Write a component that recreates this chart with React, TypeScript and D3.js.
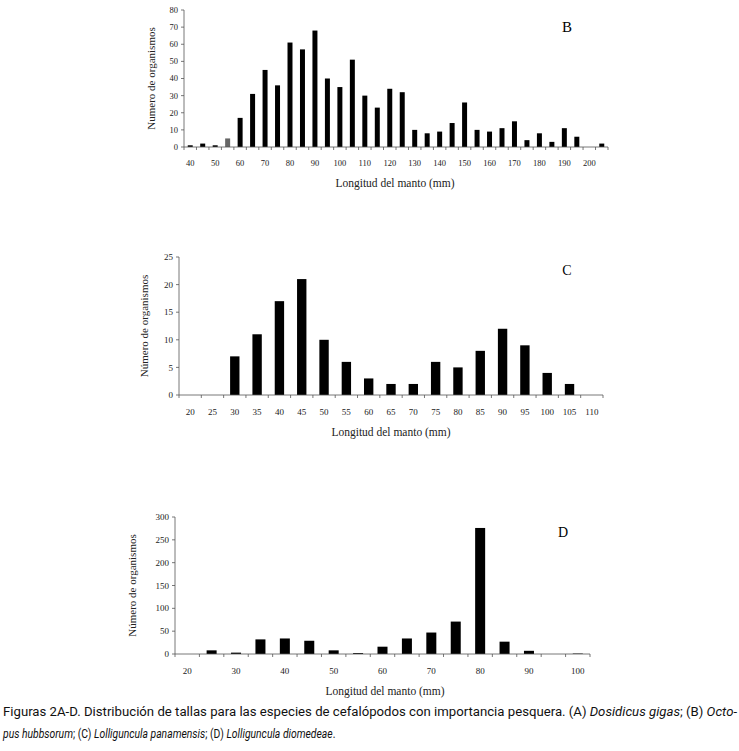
import React from 'react';
import * as d3 from 'd3';

// Panel B - Octopus hubbsorum
const sizesB = [40, 45, 50, 55, 60, 65, 70, 75, 80, 85, 90, 95, 100, 105, 110, 115, 120, 125, 130, 135, 140, 145, 150, 155, 160, 165, 170, 175, 180, 185, 190, 195, 200, 205];
const countsB = [1, 2, 1, 5, 17, 31, 45, 36, 61, 57, 68, 40, 35, 51, 30, 23, 34, 32, 10, 8, 9, 14, 26, 10, 9, 11, 15, 4, 8, 3, 11, 6, 0, 2];
const yTicksB = [0, 10, 20, 30, 40, 50, 60, 70, 80];

// Panel C - Lolliguncula panamensis
const sizesC = [20, 25, 30, 35, 40, 45, 50, 55, 60, 65, 70, 75, 80, 85, 90, 95, 100, 105, 110];
const countsC = [0, 0, 7, 11, 17, 21, 10, 6, 3, 2, 2, 6, 5, 8, 12, 9, 4, 2, 0];
const yTicksC = [0, 5, 10, 15, 20, 25];

// Panel D - Lolliguncula diomedeae
const sizesD = [20, 25, 30, 35, 40, 45, 50, 55, 60, 65, 70, 75, 80, 85, 90, 95, 100];
const countsD = [0, 8, 3, 32, 34, 29, 8, 2, 16, 34, 47, 71, 276, 27, 7, 0, 1];
const yTicksD = [0, 50, 100, 150, 200, 250, 300];

const serif = '"Liberation Serif", "DejaVu Serif", serif';
const capFont = '"Roboto", "Liberation Sans", sans-serif';

interface PanelProps {
  sizes: number[];
  counts: number[];
  yTicks: number[];
  letter: string;
  yTitle: string;
  left: number;
  right: number;
  top: number;
  bottom: number;
  pad: number;
  showLabel: (v: number, i: number) => boolean;
  tickFont: number;
  yTitleX: number;
  xTitleY: number;
  xTitleX: number;
  letterX: number;
  letterY: number;
  letterSize: number;
  grey?: number[];
}

function Panel(p: PanelProps) {
  const x = d3.scaleBand<number>().domain(p.sizes).range([p.left, p.right]).paddingInner(p.pad).paddingOuter(p.pad / 2);
  const xb = d3.scaleBand<number>().domain(p.sizes).range([p.left, p.right]);
  const y = d3.scaleLinear().domain([0, p.yTicks[p.yTicks.length - 1]]).range([p.bottom, p.top]);
  const bounds = p.sizes.map((s) => xb(s)!).concat([p.right]);
  return (
    <g>
      {p.counts.map((c, i) => (
        <rect
          key={i}
          x={x(p.sizes[i])}
          y={y(c)}
          width={x.bandwidth()}
          height={p.bottom - y(c)}
          fill={p.grey && p.grey.includes(p.sizes[i]) ? '#666' : '#000'}
        />
      ))}
      <line x1={p.left} x2={p.left} y1={p.top} y2={p.bottom} stroke="#555" strokeWidth={0.8} />
      <line x1={p.left} x2={p.right} y1={p.bottom} y2={p.bottom} stroke="#555" strokeWidth={0.8} />
      {p.yTicks.map((t) => (
        <g key={t}>
          <line x1={p.left - 3} x2={p.left} y1={y(t)} y2={y(t)} stroke="#555" strokeWidth={0.8} />
          <text x={p.left - 6} y={y(t)} dy="0.35em" textAnchor="end" fontSize={p.tickFont} fontFamily={serif} fill="#222">
            {t}
          </text>
        </g>
      ))}
      {bounds.map((b, i) => (
        <line key={i} x1={b} x2={b} y1={p.bottom} y2={p.bottom + 3} stroke="#555" strokeWidth={0.8} />
      ))}
      {p.sizes.map((s, i) =>
        p.showLabel(s, i) ? (
          <text key={s} x={xb(s)! + xb.bandwidth() / 2} y={p.xTitleY - 21} textAnchor="middle" fontSize={p.tickFont} fontFamily={serif} fill="#222">
            {s}
          </text>
        ) : null
      )}
      <text
        transform={`translate(${p.yTitleX},${(p.top + p.bottom) / 2}) rotate(-90)`}
        textAnchor="middle"
        fontSize={11}
        fontFamily={serif}
        fill="#222"
      >
        {p.yTitle}
      </text>
      <text x={p.xTitleX} y={p.xTitleY} textAnchor="middle" fontSize={11.5} fontFamily={serif} fill="#222">
        Longitud del manto (mm)
      </text>
      <text x={p.letterX} y={p.letterY} textAnchor="middle" fontSize={p.letterSize} fontFamily={serif} fill="#000">
        {p.letter}
      </text>
    </g>
  );
}

export default function App() {
  return (
    <svg width={739} height={751} style={{ position: 'absolute', left: 0, top: 0, background: '#fff' }}>
      <rect width={739} height={751} fill="#fff" />
      <Panel
        sizes={sizesB}
        counts={countsB}
        yTicks={yTicksB}
        letter="B"
        yTitle="Numero de organismos"
        left={184}
        right={608}
        top={10}
        bottom={147}
        pad={0.6}
        showLabel={(v) => v % 10 === 0}
        tickFont={8.5}
        yTitleX={155}
        xTitleY={187}
        xTitleX={395}
        letterX={567}
        letterY={32}
        letterSize={15}
        grey={[55]}
      />
      <Panel
        sizes={sizesC}
        counts={countsC}
        yTicks={yTicksC}
        letter="C"
        yTitle="Número de organismos"
        left={179}
        right={603}
        top={257}
        bottom={395}
        pad={0.58}
        showLabel={() => true}
        tickFont={9}
        yTitleX={148}
        xTitleY={436}
        xTitleX={391}
        letterX={567}
        letterY={275}
        letterSize={14}
      />
      <Panel
        sizes={sizesD}
        counts={countsD}
        yTicks={yTicksD}
        letter="D"
        yTitle="Número de organismos"
        left={175}
        right={590}
        top={517}
        bottom={654}
        pad={0.59}
        showLabel={(v) => v % 10 === 0}
        tickFont={9}
        yTitleX={136}
        xTitleY={695}
        xTitleX={385}
        letterX={563}
        letterY={537}
        letterSize={14}
      />
      <text x={3} y={716} fontSize={12.5} fontFamily={capFont} fill="#111" textLength={734} lengthAdjust="spacingAndGlyphs">
        Figuras 2A-D. Distribución de tallas para las especies de cefalópodos con importancia pesquera. (A) <tspan fontStyle="italic">Dosidicus gigas</tspan>; (B) <tspan fontStyle="italic">Octo-</tspan>
      </text>
      <text transform="translate(3,738) scale(0.83,1)" fontSize={12.5} fontFamily={capFont} fill="#111">
        <tspan fontStyle="italic">pus hubbsorum</tspan>; (C) <tspan fontStyle="italic">Lolliguncula panamensis</tspan>; (D) <tspan fontStyle="italic">Lolliguncula diomedeae</tspan>.
      </text>
    </svg>
  );
}
